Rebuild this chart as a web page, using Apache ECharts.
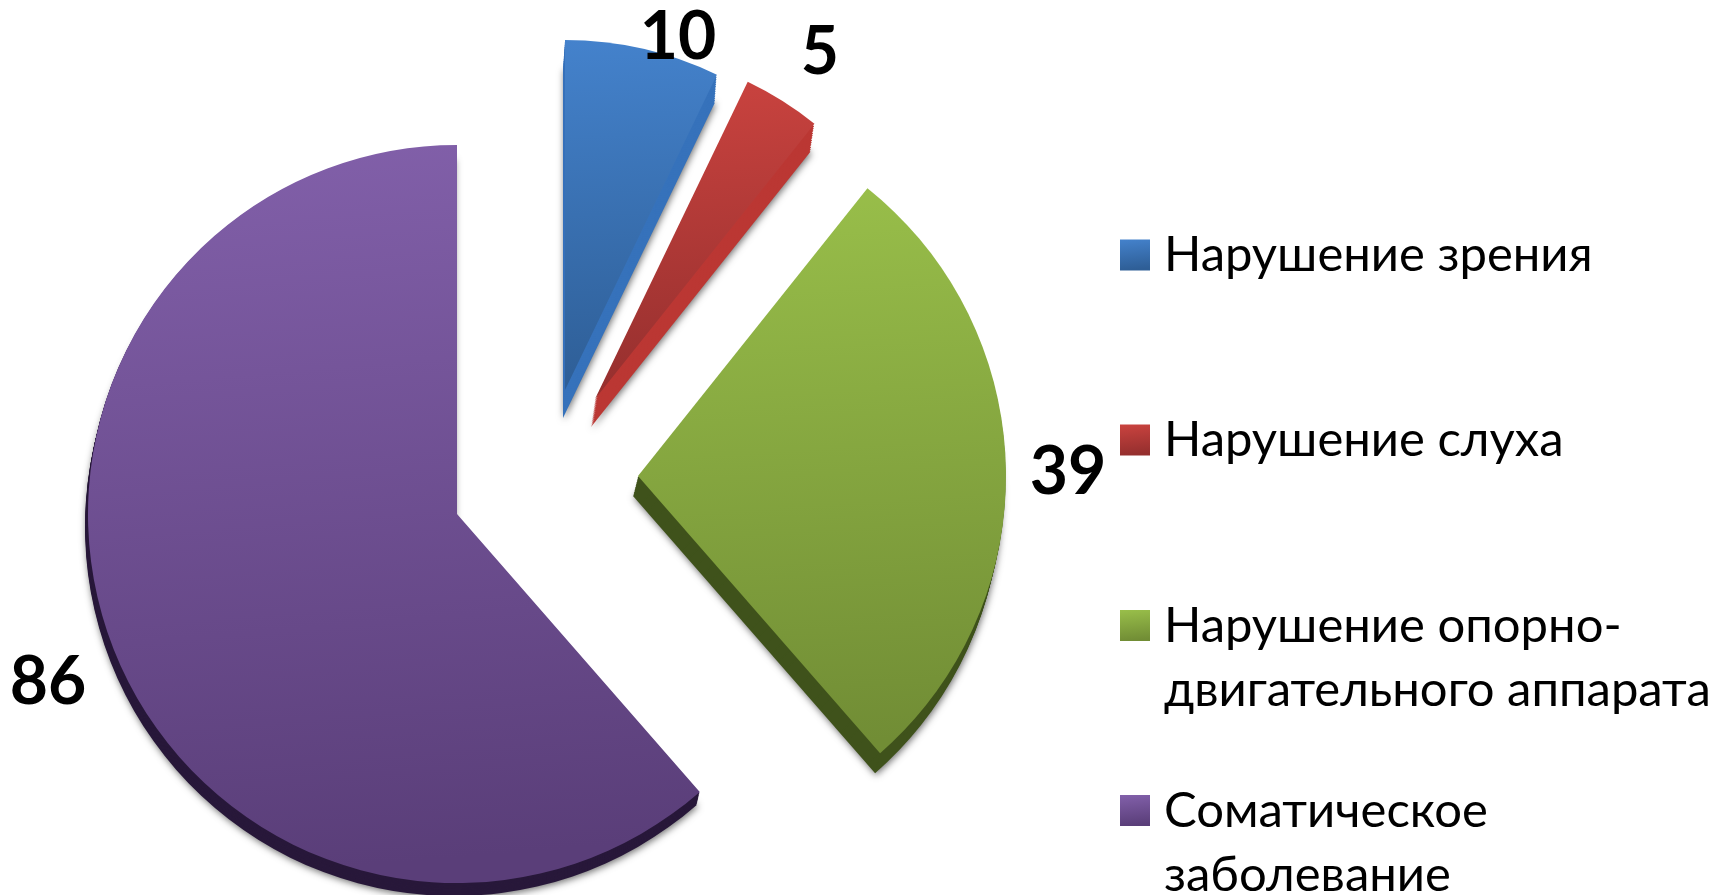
<!DOCTYPE html>
<html>
<head>
<meta charset="utf-8">
<title>Pie</title>
<style>
    html, body {margin: 0; padding: 0; background: #fff;}
    #chart {width: 1727px; height: 895px;}
</style>
<script src="https://cdn.jsdelivr.net/npm/echarts@6/dist/echarts.min.js"></script>
</head>
<body>
<div id="chart"></div>
<script>
var categories = ['Нарушение зрения', 'Нарушение слуха', 'Нарушение опорно-\nдвигательного аппарата', 'Соматическое\nзаболевание'];
var values = [10, 5, 39, 86];

// look of each slice, same order as categories
var faceTop = ['#4482cc', '#ca433f', '#99bf4a', '#8260aa'];
var faceBottom = ['#2e5e96', '#952f2e', '#718d35', '#5a3e79'];
var sideColor = ['#3672bb', '#bb3733', '#3f521b', '#28183a'];

// apex of each exploded slice, its radius and the pulled down side
var centers = [[565, 390], [595, 399], [638, 476], [457, 514]];
var radii = [350, 352, 368, 369];
var depths = [[-2, 28], [-4, 28], [-5, 20], [-3, 13]];
var labelAt = [[678, 38], [820, 53], [1068, 473], [48, 683]];
var legendTop = [223, 408, 594, 779];

var FONT = 'Lato, "Noto Sans", sans-serif';
var DEPTH_STEPS = 12;

function gradient(i, y0, y1) {
    return new echarts.graphic.LinearGradient(0, y0, 0.1, y1, [
        {offset: 0, color: faceTop[i]},
        {offset: 1, color: faceBottom[i]}
    ]);
}

function buildSeries() {
    var total = 0, i;
    for (i = 0; i < values.length; i++) {
        total += values[i];
    }
    var series = [];
    var sum = 0;
    for (i = 0; i < values.length; i++) {
        var start = 90 - sum / total * 360;
        var rest = {
            name: '',
            value: total - values[i],
            itemStyle: {color: 'transparent'},
            label: {show: false}
        };
        // side of the slice: darker copies stepping out to the depth offset
        for (var k = DEPTH_STEPS; k >= 1; k--) {
            series.push({
                type: 'pie',
                silent: true,
                animation: false,
                startAngle: start,
                center: [centers[i][0] + depths[i][0] * k / DEPTH_STEPS, centers[i][1] + depths[i][1] * k / DEPTH_STEPS],
                radius: [0, radii[i]],
                label: {show: false},
                labelLine: {show: false},
                data: [{
                    name: '',
                    value: values[i],
                    itemStyle: k === DEPTH_STEPS ? {
                        color: sideColor[i],
                        shadowBlur: 7,
                        shadowOffsetX: 1,
                        shadowOffsetY: 2,
                        shadowColor: 'rgba(0,0,0,0.55)'
                    } : {color: sideColor[i]}
                }, rest]
            });
        }
        // top face with the value label
        series.push({
            type: 'pie',
            silent: true,
            animation: false,
            startAngle: start,
            center: centers[i],
            radius: [0, radii[i]],
            label: {
                show: true,
                position: 'inside',
                formatter: '{c}',
                fontFamily: FONT,
                fontWeight: 'bold',
                fontSize: 66,
                color: '#000'
            },
            labelLine: {show: false},
            labelLayout: {
                x: labelAt[i][0],
                y: labelAt[i][1],
                align: 'center',
                verticalAlign: 'middle'
            },
            data: [{
                name: categories[i],
                value: values[i],
                itemStyle: {color: gradient(i, 0, 1)}
            }, rest]
        });
        sum += values[i];
    }
    return series;
}

function buildLegends() {
    var legends = [];
    for (var i = 0; i < categories.length; i++) {
        var twoLines = categories[i].indexOf('\n') >= 0;
        legends.push({
            left: 1120,
            top: legendTop[i],
            padding: 0,
            orient: 'vertical',
            selectedMode: false,
            data: [categories[i]],
            itemWidth: 30,
            itemHeight: twoLines ? 128 : 31,
            itemGap: 0,
            // two line entries keep the square next to the first line
            icon: twoLines ? 'path://M0 0L0 0M0 16L30 16L30 47L0 47ZM30 128L30 128' : 'rect',
            itemStyle: {color: twoLines ? gradient(i, 0.125, 0.37) : gradient(i, 0, 1)},
            textStyle: {
                fontFamily: FONT,
                fontSize: 49,
                lineHeight: 64,
                color: '#000',
                padding: [0, 0, 0, 9]
            }
        });
    }
    return legends;
}

var chart = echarts.init(document.getElementById('chart'));
chart.setOption({
    backgroundColor: '#fff',
    animation: false,
    legend: buildLegends(),
    series: buildSeries()
});
</script>
</body>
</html>
